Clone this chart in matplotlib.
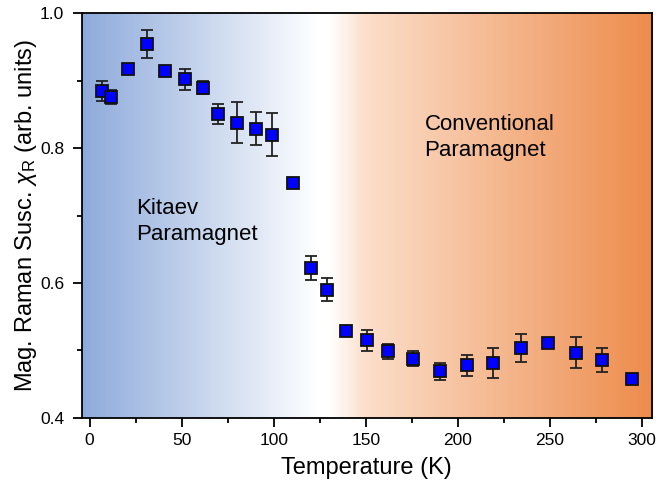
import numpy as np
import matplotlib.pyplot as plt
from matplotlib.colors import LinearSegmentedColormap

plt.rcParams['font.family'] = ['Liberation Sans', 'DejaVu Sans']
plt.rcParams['mathtext.fontset'] = 'custom'
plt.rcParams['mathtext.rm'] = 'Liberation Sans'
plt.rcParams['mathtext.it'] = 'Liberation Sans:italic'

# Temperature (K)
temperature = [6.5, 11.4, 21.0, 31.1, 41.1, 51.8, 61.4, 69.9, 80.1, 90.4, 99.2, 110.5,
               120.1, 129.1, 139.3, 150.7, 162.3, 175.9, 190.5, 205.0, 219.3, 234.3,
               249.2, 264.0, 278.6, 294.6]
# magnetic Raman susceptibility (arb. units)
chi_r = [0.885, 0.876, 0.918, 0.955, 0.914, 0.902, 0.890, 0.851, 0.838, 0.829, 0.820, 0.749,
         0.622, 0.590, 0.529, 0.515, 0.499, 0.488, 0.469, 0.478, 0.481, 0.504,
         0.511, 0.497, 0.486, 0.457]
chi_err = [0.015, 0.010, 0.004, 0.021, 0.003, 0.015, 0.010, 0.015, 0.030, 0.024, 0.032, 0.003,
           0.018, 0.017, 0.005, 0.016, 0.011, 0.011, 0.013, 0.016, 0.022, 0.021,
           0.004, 0.023, 0.018, 0.006]

xlim = (-4.3, 305.4)
ylim = (0.4, 1.0)

fig = plt.figure(figsize=(6.59, 4.94), dpi=100)
ax = fig.add_axes([0.124, 0.154, 0.865, 0.819])

# background gradient: blue (Kitaev) -> white -> orange (conventional)
def pos(t):
    return (t - xlim[0]) / (xlim[1] - xlim[0])

cmap = LinearSegmentedColormap.from_list('bg', [
    (0.0, (0.56, 0.67, 0.86)),
    (pos(124), (1.0, 1.0, 1.0)),
    (pos(130), (1.0, 1.0, 1.0)),
    (pos(150), (0.985, 0.87, 0.79)),
    (1.0, (0.93, 0.55, 0.30)),
])
grad = np.linspace(0, 1, 600).reshape(1, -1)
ax.imshow(grad, cmap=cmap, aspect='auto', extent=[xlim[0], xlim[1], ylim[0], ylim[1]],
          zorder=0, interpolation='bilinear')

ax.errorbar(temperature, chi_r, yerr=chi_err, fmt='s', color='black', ecolor='#222222',
            elinewidth=1.3, capsize=4, capthick=1.3, markersize=8.5,
            markerfacecolor='#0000ff', markeredgecolor='#111111', markeredgewidth=1.3, zorder=3)

ax.set_xlim(*xlim)
ax.set_ylim(*ylim)
ax.set_xticks([0, 50, 100, 150, 200, 250, 300])
ax.set_xticks(np.arange(25, 300, 50), minor=True)
ax.set_yticks([0.4, 0.6, 0.8, 1.0])
ax.set_yticks([0.5, 0.7, 0.9], minor=True)
ax.set_yticklabels(['0.4', '0.6', '0.8', '1.0'])
ax.tick_params(which='both', direction='out', top=False, right=False, width=1.3, labelsize=12.5)
ax.tick_params(which='major', length=6.5)
ax.tick_params(which='minor', length=3.6)
ax.tick_params(axis='y', which='major', pad=6)
ax.tick_params(axis='x', which='major', pad=4.5)
for s in ax.spines.values():
    s.set_linewidth(1.3)

ax.set_xlabel('Temperature (K)', fontsize=17, labelpad=6)
ax.set_ylabel(r'Mag. Raman Susc. $\chi_\mathregular{R}$ (arb. units)', fontsize=17, labelpad=1)

ax.text(25.5, 0.657, 'Kitaev\nParamagnet', fontsize=16, ha='left', va='bottom', linespacing=1.3)
ax.text(182, 0.85, 'Conventional\nParamagnet', fontsize=16, ha='left', va='top', linespacing=1.3)

fig.savefig('out.png', dpi=100)
